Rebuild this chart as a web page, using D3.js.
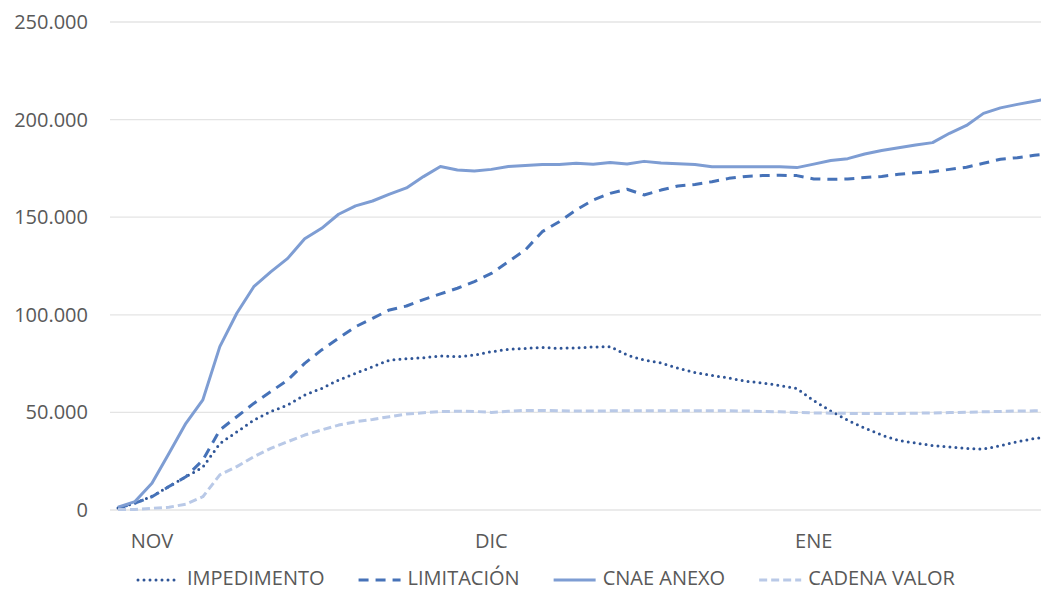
<!DOCTYPE html>
<html>
<head>
<meta charset="utf-8">
<script src="https://cdn.jsdelivr.net/npm/d3@7"></script>
<style>
  body { margin: 0; background: #fff; }
  svg { display: block; font-family: "Open Sans", sans-serif; }
</style>
</head>
<body>
<div id="chart"></div>
<script>
// ---- data ----
const monthLabels = ["NOV", "DIC", "ENE"];
const monthIndex  = [2, 22, 41];            // point index under each month label
const yTicks      = [0, 50000, 100000, 150000, 200000, 250000];

const impedimento = [
  1000, 3500, 7000, 12000, 17000, 22000, 34000, 40000, 46000, 50400,
  53800, 58900, 62300, 66600, 70000, 73400, 76800, 77500, 78000, 78900,
  78500, 79400, 81100, 82300, 82800, 83300, 82800, 83100, 83500, 83700,
  79400, 76800, 75300, 72700, 70400, 68900, 67600, 66000, 65000, 63800,
  62300, 56000, 50700, 46000, 42000, 38400, 35600, 34300, 33000, 32300,
  31600, 31200, 33000, 35000, 36600, 37500
];
const limitacion = [
  1000, 3500, 6800, 12000, 17000, 25600, 41000, 47800, 54600, 60600,
  66600, 75100, 82000, 88000, 93900, 98200, 102500, 104500, 107800, 110700,
  113600, 117000, 121200, 127200, 133200, 142600, 147700, 153700, 158800, 162200,
  164300, 161400, 163900, 166000, 166800, 168200, 169900, 170900, 171300, 171500,
  171300, 169600, 169400, 169600, 170300, 170900, 172000, 172800, 173300, 174500,
  175600, 177600, 179700, 180500, 181700, 182500
];
const cnaeAnexo = [
  1500, 4300, 13700, 29000, 44400, 56400, 83700, 100800, 114400, 122000,
  128900, 139000, 144300, 151500, 155800, 158300, 161800, 165000, 170800, 176000,
  174200, 173700, 174500, 176000, 176500, 177000, 177000, 177600, 177100, 178000,
  177300, 178600, 177800, 177400, 177000, 175900, 175900, 175900, 175900, 175900,
  175400, 177200, 179000, 180000, 182400, 184200, 185600, 187000, 188200, 193000,
  197000, 203200, 206000, 207800, 209400, 211000
];
const cadenaValor = [
  300, 300, 900, 1400, 3000, 6800, 18000, 22200, 27300, 31600,
  35000, 38400, 41000, 43500, 45200, 46400, 47800, 49200, 49800, 50400,
  50600, 50500, 50000, 50600, 51000, 51000, 50800, 50700, 50700, 50800,
  50800, 50800, 50800, 50800, 50800, 50800, 50800, 50700, 50500, 50300,
  50000, 49700, 49600, 49500, 49500, 49500, 49500, 49600, 49700, 49900,
  50100, 50300, 50500, 50700, 50800, 50900
];

const series = [
  { name: "IMPEDIMENTO",  values: impedimento, color: "#2f5597", dash: "0,6",  cap: "round" },
  { name: "LIMITACIÓN",   values: limitacion,  color: "#4672b8", dash: "10,7", cap: "butt" },
  { name: "CNAE ANEXO",   values: cnaeAnexo,   color: "#7e9dd3", dash: null,   cap: "butt" },
  { name: "CADENA VALOR", values: cadenaValor, color: "#b9c9e7", dash: "8,4",  cap: "butt" }
];

// ---- layout ----
const W = 1041, H = 591;
const plotLeft = 110, plotTop = 22, plotBottom = 510;

const es = d3.formatLocale({ decimal: ",", thousands: ".", grouping: [3], currency: ["", " €"] });
const fmt = es.format(",d");

const x = d3.scaleLinear()
    .domain([0, impedimento.length - 1])
    .range([118, 118 + (impedimento.length - 1) * 16.97]);

const y = d3.scaleLinear()
    .domain([0, 250000])
    .range([plotBottom, plotTop]);

const svg = d3.select("#chart").append("svg")
    .attr("width", W)
    .attr("height", H);

// gridlines
svg.append("g")
  .selectAll("line")
  .data(yTicks)
  .join("line")
    .attr("x1", plotLeft)
    .attr("x2", W)
    .attr("y1", d => y(d))
    .attr("y2", d => y(d))
    .attr("stroke", "#e4e4e4")
    .attr("stroke-width", 1.3);

// y axis labels
const yAxis = svg.append("g")
    .attr("transform", `translate(88,0)`)
    .call(d3.axisLeft(y).tickValues(yTicks).tickFormat(fmt).tickSize(0).tickPadding(0));
yAxis.select(".domain").remove();
yAxis.selectAll("text")
    .attr("fill", "#595959")
    .style("font-family", "'Open Sans', sans-serif")
    .style("font-size", "20px");

// month labels
svg.append("g")
  .selectAll("text")
  .data(monthLabels)
  .join("text")
    .attr("x", (d, i) => x(monthIndex[i]))
    .attr("y", 548)
    .attr("text-anchor", "middle")
    .attr("fill", "#595959")
    .style("font-size", "20px")
    .text(d => d);

// lines
const line = d3.line()
    .x((d, i) => x(i))
    .y(d => y(d));

svg.append("g")
  .attr("fill", "none")
  .selectAll("path")
  .data(series)
  .join("path")
    .attr("d", d => line(d.values))
    .attr("stroke", d => d.color)
    .attr("stroke-width", 3)
    .attr("stroke-linejoin", "round")
    .attr("stroke-linecap", d => d.cap)
    .attr("stroke-dasharray", d => d.dash);

// legend
const legend = svg.append("g");
let lx = 138;
const ly = 580;
series.forEach(s => {
  legend.append("line")
      .attr("x1", lx).attr("x2", lx + 42)
      .attr("y1", ly).attr("y2", ly)
      .attr("stroke", s.color)
      .attr("stroke-width", 3)
      .attr("stroke-linecap", s.cap)
      .attr("stroke-dasharray", s.dash);
  const t = legend.append("text")
      .attr("x", lx + 49)
      .attr("y", ly + 5)
      .attr("fill", "#595959")
      .style("font-size", "20px")
      .text(s.name);
  lx += 49 + t.node().getComputedTextLength() + 34;
});
</script>
</body>
</html>
